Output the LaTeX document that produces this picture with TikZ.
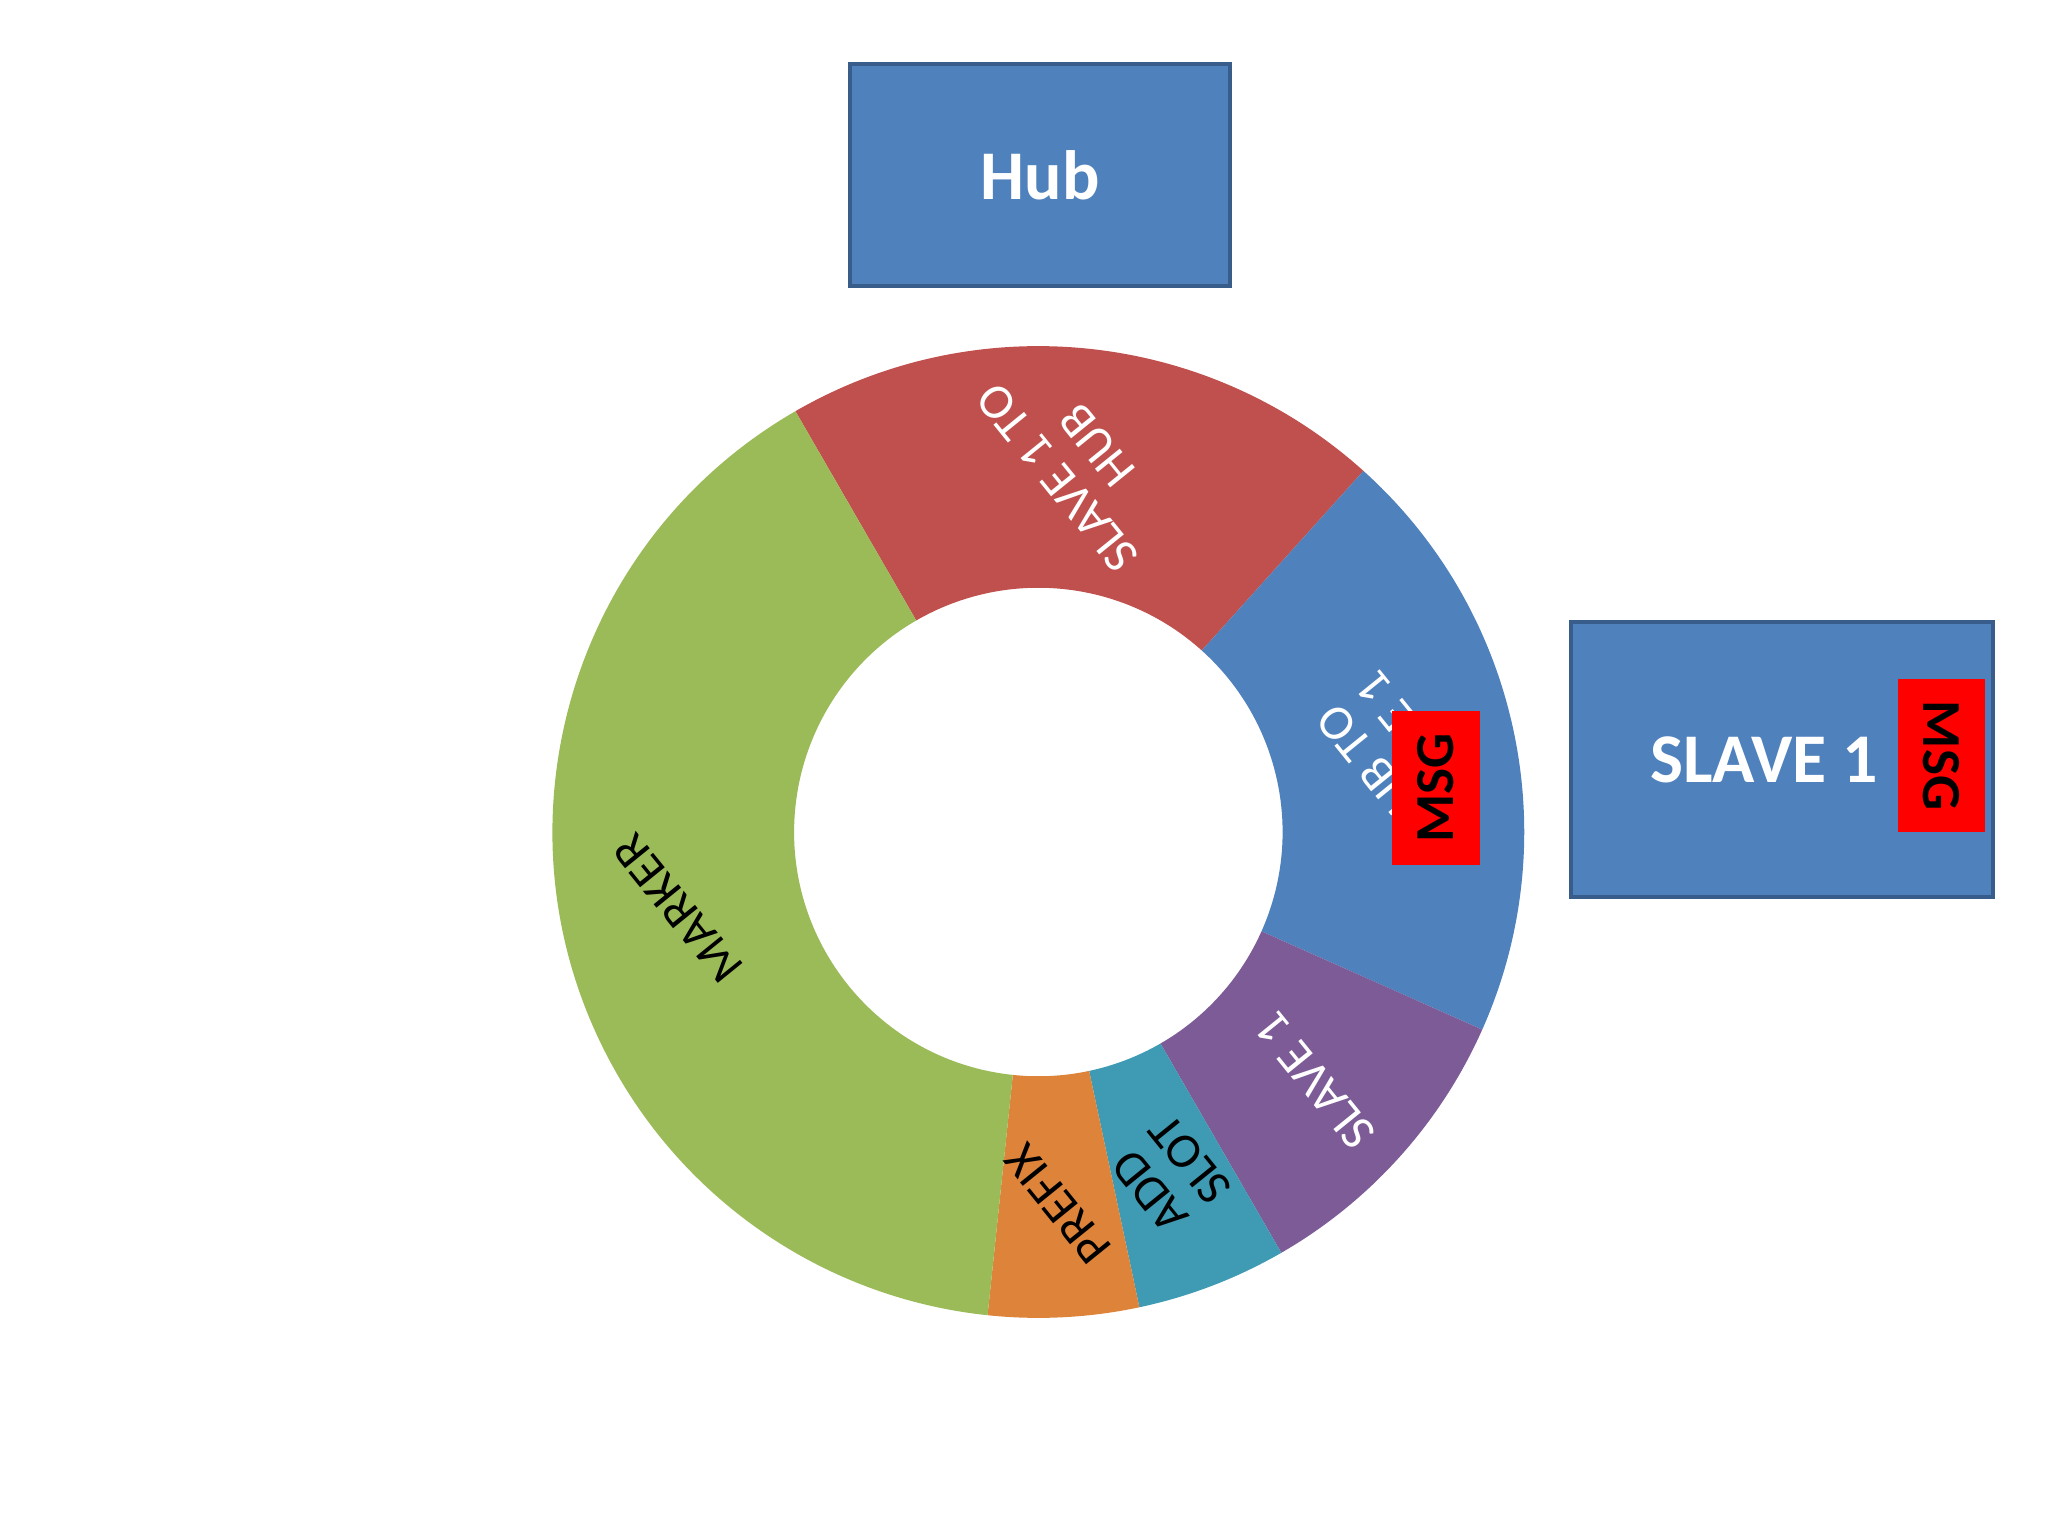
\documentclass[tikz,border=0pt]{standalone}
\usepackage{fontspec}
\setmainfont{Carlito}
\definecolor{cred}{HTML}{C0504D}
\definecolor{cblue}{HTML}{4F81BD}
\definecolor{cpurple}{HTML}{7D5B97}
\definecolor{cteal}{HTML}{3E9BB3}
\definecolor{corange}{HTML}{DD843A}
\definecolor{cgreen}{HTML}{9BBB59}
\definecolor{cborder}{HTML}{385D8A}
\begin{document}
\begin{tikzpicture}[x=0.25mm,y=0.25mm,
  box/.style={draw=cborder,line width=0.75mm,fill=cblue,inner sep=0pt,text=white,font=\bfseries\fontsize{38}{40}\selectfont},
  msgbox/.style={fill=red,inner sep=0pt,font=\bfseries\fontsize{30}{32}\selectfont},
  seglabel/.style={align=center,font=\fontsize{27}{28}\selectfont,rotate=129}]
\useasboundingbox (-795,-539) rectangle (773,637);
\def\R{372}\def\r{187}
\foreach \a/\b/\c in {48/120/cred,-24/48/cblue,-60/-24/cpurple,-78/-60/cteal,-96/-78/corange,120/264/cgreen}{
  \fill[\c] (\a:\R) arc[start angle=\a,end angle=\b,radius=\R] -- (\b:\r) arc[start angle=\b,end angle=\a,radius=\r] -- cycle;
}
\node[seglabel,text=white] (l1) at (84:285) {SLAVE 1 TO\\HUB};
\node[seglabel,text=white] (l2) at (12:280) {HUB TO\\SLAVE 1};
\node[seglabel,text=white] (l3) at (-42:285) {SLAVE 1};
\node[seglabel,text=black] (l4) at (-69:282) {ADD\\SLOT};
\node[seglabel,text=black] (l5) at (-87:285) {PREFIX};
\node[seglabel,text=black] (l6) at (192:282) {MARKER};
\node[box,minimum width=72.75mm,minimum height=42.5mm] (hub) at (1.5,503) {Hub};
\node[box,minimum width=80.75mm,minimum height=52.75mm] (slave) at (569.5,55.5) {\hspace*{-20pt}SLAVE 1};
\node[msgbox,minimum width=16.75mm,minimum height=29.5mm] (m1) at (304.5,34) {\rotatebox{90}{MSG}};
\node[msgbox,minimum width=16.75mm,minimum height=29.25mm] (m2) at (691.5,58.5) {\rotatebox{-90}{MSG}};
\end{tikzpicture}
\end{document}
